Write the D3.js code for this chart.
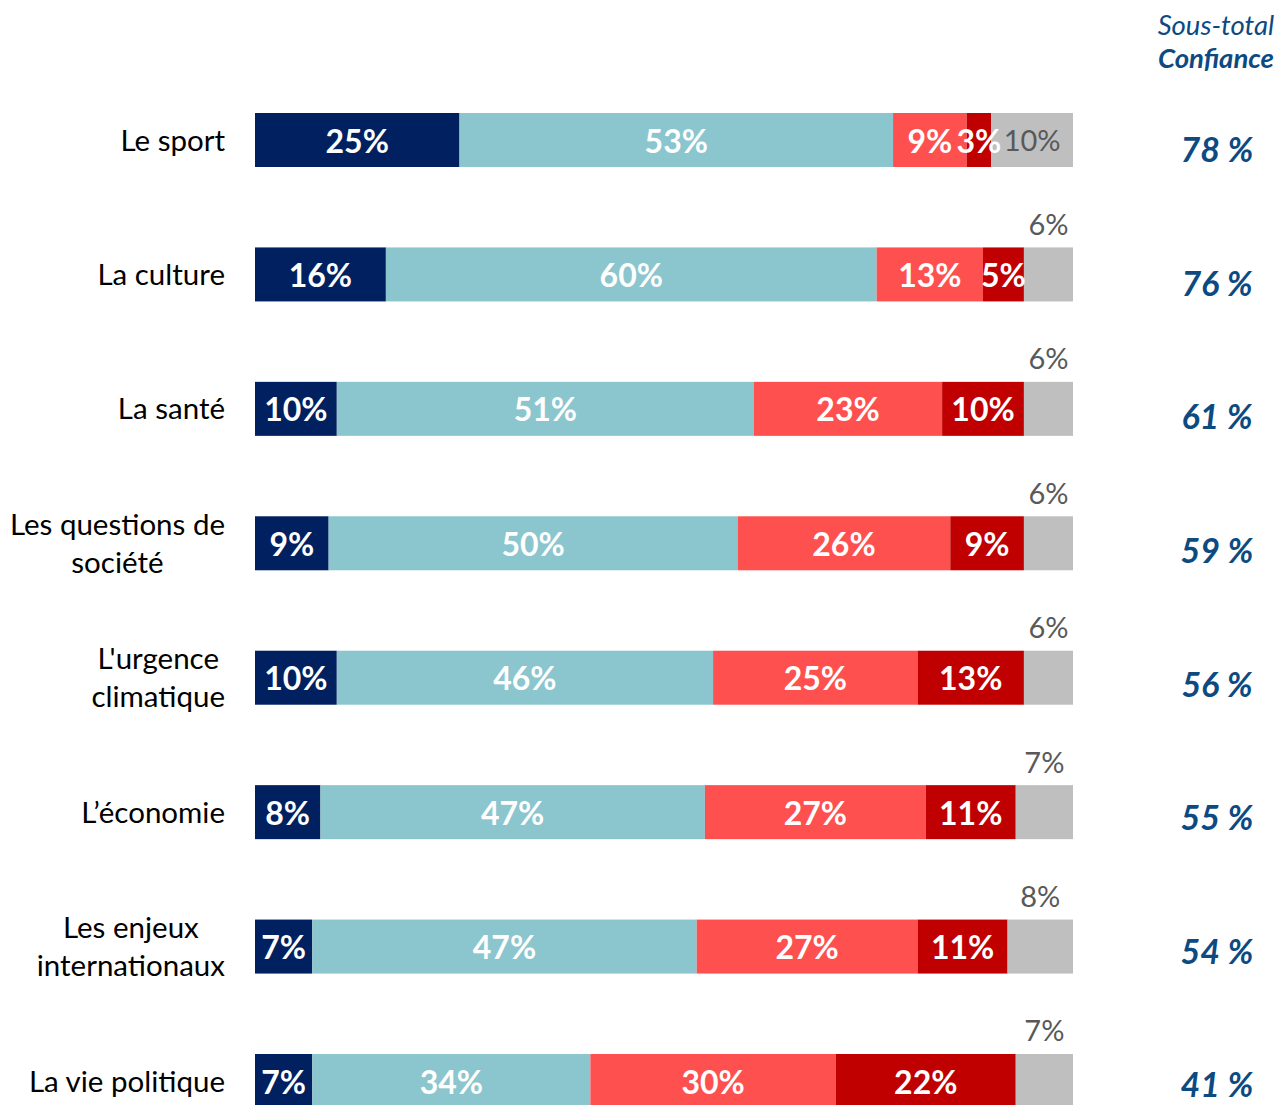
<!DOCTYPE html>
<html>
<head>
<meta charset="utf-8">
<script src="https://cdn.jsdelivr.net/npm/d3@7"></script>
<style>
  body { margin: 0; background: #fff; }
  svg { display: block; font-family: Lato, "Open Sans", sans-serif; }
</style>
</head>
<body>
<div id="chart"></div>
<script>
const categories = [
  ["Le sport"],
  ["La culture"],
  ["La santé"],
  ["Les questions de", "société"],
  ["L'urgence", "climatique"],
  ["L’économie"],
  ["Les enjeux", "internationaux"],
  ["La vie politique"]
];
const tresConfiance   = [25, 16, 10, 9, 10, 8, 7, 7];
const plutotConfiance = [53, 60, 51, 50, 46, 47, 47, 34];
const plutotPas       = [9, 13, 23, 26, 25, 27, 27, 30];
const pasDuTout       = [3, 5, 10, 9, 13, 11, 11, 22];
const nsp             = [10, 6, 6, 6, 6, 7, 8, 7];
const sousTotal       = [78, 76, 61, 59, 56, 55, 54, 41];

const seriesColors = ["#002060", "#8BC6CE", "#FF5050", "#C00000", "#BFBFBF"];
const blue = "#0D4A82";

const width = 1277, height = 1105;
const svg = d3.select("#chart").append("svg")
  .attr("width", width)
  .attr("height", height);

const x = d3.scaleLinear().domain([0, 100]).range([255, 1073]);
const y = d3.scalePoint().domain(d3.range(categories.length)).range([140, 1081]);
// the sous-total column sits on its own slightly tighter grid
const yTotal = d3.scalePoint().domain(d3.range(categories.length)).range([150, 1085]);
const barH = 54;

const rows = categories.map((c, i) => {
  const vals = [tresConfiance[i], plutotConfiance[i], plutotPas[i], pasDuTout[i], nsp[i]];
  let acc = 0;
  const segs = vals.map((v, k) => {
    const s = { k, v, x0: acc, x1: acc + v };
    acc += v;
    return s;
  });
  return { i, label: c, segs, total: sousTotal[i] };
});

const row = svg.selectAll(".row")
  .data(rows)
  .join("g")
  .attr("class", "row")
  .attr("transform", d => `translate(0,${y(d.i)})`);

row.selectAll("rect")
  .data(d => d.segs)
  .join("rect")
  .attr("x", s => x(s.x0))
  .attr("width", s => x(s.x1) - x(s.x0))
  .attr("y", -barH / 2)
  .attr("height", barH)
  .attr("fill", s => seriesColors[s.k]);

// white labels in coloured segments
row.selectAll(".val")
  .data(d => d.segs.filter(s => s.k < 4))
  .join("text")
  .attr("class", "val")
  .attr("x", s => (x(s.x0) + x(s.x1)) / 2)
  .attr("y", 1)
  .attr("dy", "0.36em")
  .attr("text-anchor", "middle")
  .attr("fill", "#fff")
  .attr("font-weight", 700)
  .attr("font-size", "32px")
  .text(s => s.v + "%");

// grey (nsp) label: inside for the first row, above otherwise
row.each(function (d) {
  const s = d.segs[4];
  const g = d3.select(this);
  const inside = d.i === 0;
  g.append("text")
    .attr("x", (x(s.x0) + x(s.x1)) / 2)
    .attr("y", inside ? 1 : -barH / 2 - 23)
    .attr("dy", "0.36em")
    .attr("text-anchor", "middle")
    .attr("fill", "#595959")
    .attr("font-size", "29px")
    .text(s.v + "%");
});

// category labels, block right aligned, lines centred
row.each(function (d) {
  const g = d3.select(this);
  const lines = d.label;
  const lh = 38;
  const texts = lines.map((l, j) => g.append("text")
    .attr("y", (j - (lines.length - 1) / 2) * lh)
    .attr("dy", "0.36em")
    .attr("font-size", "29.5px")
    .attr("fill", "#000")
    .attr("text-anchor", "middle")
    .text(l));
  const maxW = d3.max(texts, tx => tx.node().getComputedTextLength());
  texts.forEach(tx => tx.attr("x", 225 - maxW / 2));
});

// sous-total column
svg.selectAll(".total")
  .data(rows)
  .join("text")
  .attr("class", "total")
  .attr("x", 1217)
  .attr("y", d => yTotal(d.i))
  .attr("dy", "0.36em")
  .attr("text-anchor", "middle")
  .attr("fill", blue)
  .attr("font-weight", 700)
  .attr("font-style", "italic")
  .attr("font-size", "34px")
  .text(d => d.total + " %");

svg.append("text")
  .attr("x", 1216)
  .attr("y", 25)
  .attr("dy", "0.36em")
  .attr("text-anchor", "middle")
  .attr("fill", blue)
  .attr("font-style", "italic")
  .attr("font-size", "27.5px")
  .text("Sous-total");

svg.append("text")
  .attr("x", 1216)
  .attr("y", 58)
  .attr("dy", "0.36em")
  .attr("text-anchor", "middle")
  .attr("fill", blue)
  .attr("font-style", "italic")
  .attr("font-weight", 700)
  .attr("font-size", "27.5px")
  .text("Confiance");
</script>
</body>
</html>
